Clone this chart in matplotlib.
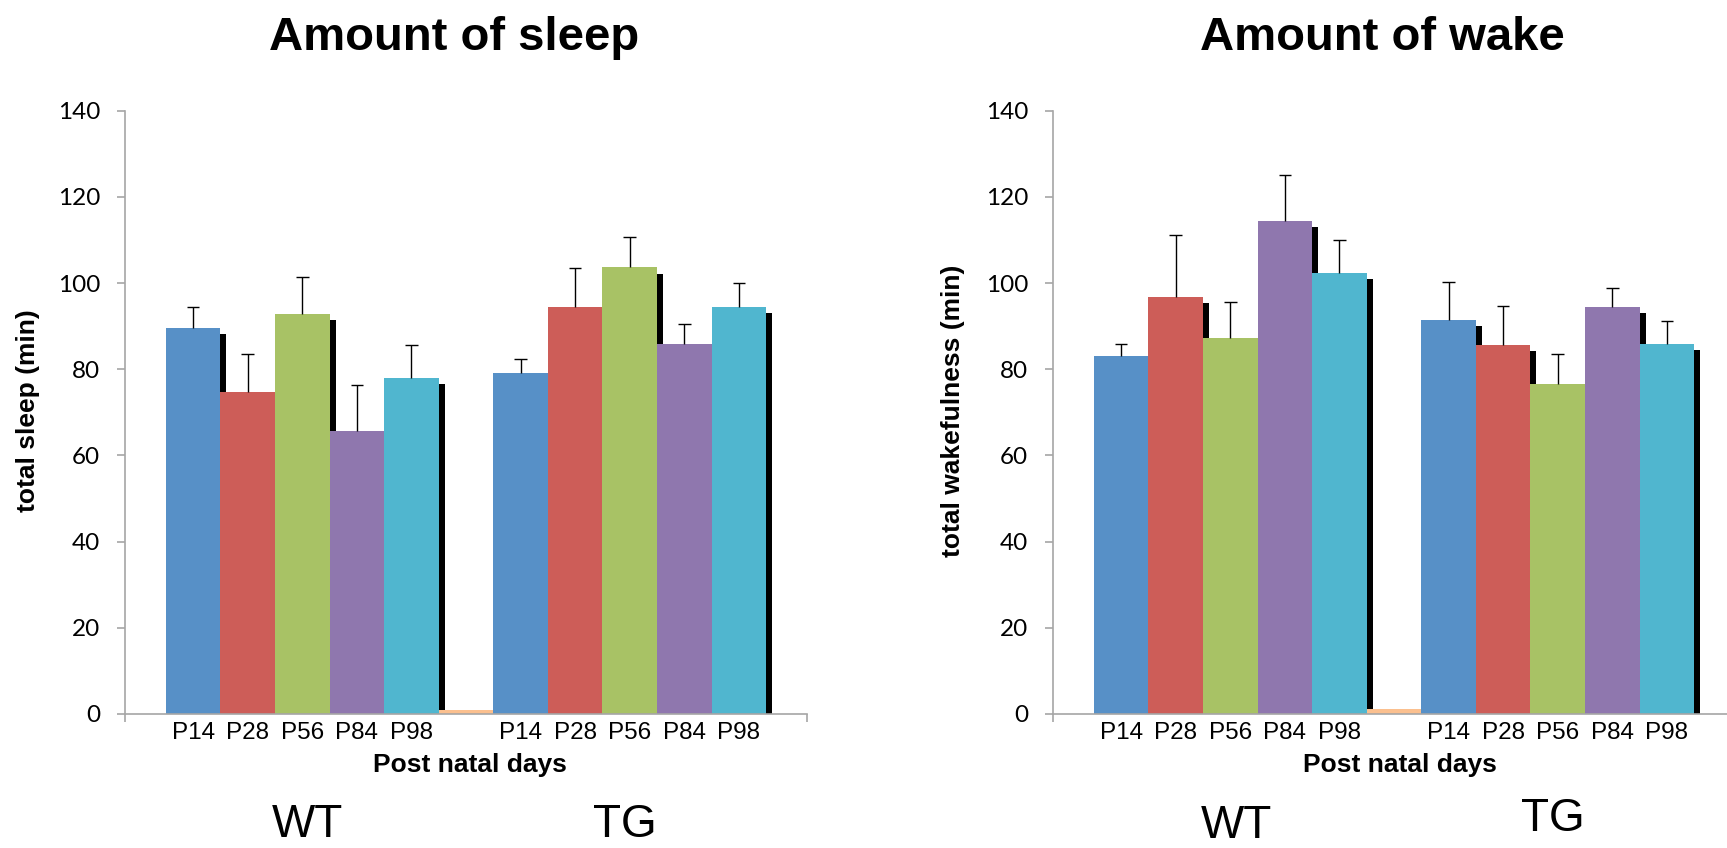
import numpy as np
import matplotlib
matplotlib.use("Agg")
import matplotlib.pyplot as plt

# ---------------- data ----------------
ages = ["P14", "P28", "P56", "P84", "P98"]
groups = ["WT", "TG"]
bar_colors = ["#5790C7", "#CD5D58", "#A8C265", "#8F77AE", "#50B6CF"]
spacer_color = "#FBC08F"

sleep_wt = [89.6, 74.7, 92.9, 65.7, 77.9]
sleep_wt_err = [4.8, 8.9, 8.4, 10.6, 7.6]
sleep_tg = [79.2, 94.5, 103.6, 85.9, 94.5]
sleep_tg_err = [3.2, 9.0, 7.1, 4.5, 5.4]
sleep_spacer = 1.0

wake_wt = [83.1, 96.7, 87.2, 114.3, 102.3]
wake_wt_err = [2.8, 14.5, 8.4, 10.7, 7.6]
wake_tg = [91.4, 85.6, 76.5, 94.5, 85.9]
wake_tg_err = [8.8, 9.1, 7.1, 4.4, 5.3]
wake_spacer = 1.1

titles = ["Amount of sleep", "Amount of wake"]
ylabels = ["total sleep (min)", "total wakefulness (min)"]
xlabel = "Post natal days"
yticks = [0, 20, 40, 60, 80, 100, 120, 140]

# ---------------- figure ----------------
W, H = 1727, 848
fig = plt.figure(figsize=(W / 100, H / 100), dpi=100)

AX_GRAY = "#A6A6A6"
SANS = ["Liberation Sans", "DejaVu Sans"]
TICKFONT = ["Lato", "DejaVu Sans"]


def draw_panel(ax, wt, wt_err, tg, tg_err, spacer):
    vals = np.array(list(wt) + [spacer] + list(tg), dtype=float)
    cols = bar_colors + [spacer_color] + bar_colors
    pos = np.arange(len(vals))
    # drop shadow effect
    dx, dy = 0.11, 1.4
    ax.bar(pos + dx, vals - dy, width=1.0, color="black", linewidth=0, zorder=1)
    ax.bar(pos, vals, width=1.0, color=cols, linewidth=0, zorder=2)
    n = len(wt)
    cap = 0.115
    for idx, v, e in ((pos[:n], wt, wt_err), (pos[n + 1:], tg, tg_err)):
        v = np.asarray(v)
        top = v + np.asarray(e)
        ax.vlines(idx, v, top, colors="black", linewidth=1.0, zorder=3)
        ax.hlines(top, idx - cap, idx + cap, colors="black", linewidth=1.0,
                  zorder=3)
    ax.set_xlim(-1.25, len(vals) - 1 + 1.25)
    ax.set_ylim(0, 140)
    ax.set_yticks(yticks)
    ax.set_yticklabels([str(t) for t in yticks], fontfamily=TICKFONT,
                       fontsize=17.5)
    ax.set_xticks(pos)
    ax.set_xticklabels(ages + [""] + ages, fontfamily=SANS, fontsize=17.5)
    ax.set_xticks([-1.25, len(vals) - 1 + 1.25], minor=True)
    ax.tick_params(axis="x", which="major", length=0, pad=6)
    ax.tick_params(axis="x", which="minor", length=6, width=1.2,
                   color=AX_GRAY, direction="out")
    ax.tick_params(axis="y", length=6, width=1.2, color=AX_GRAY,
                   direction="out", pad=12)
    for s in ("top", "right"):
        ax.spines[s].set_visible(False)
    for s in ("left", "bottom"):
        ax.spines[s].set_color(AX_GRAY)
        ax.spines[s].set_linewidth(1.2)


ax1 = fig.add_axes([125 / W, 1 - 714 / H, 682 / W, 603.4 / H])
ax2 = fig.add_axes([1053 / W, 1 - 714 / H, 682 / W, 603.4 / H])
draw_panel(ax1, sleep_wt, sleep_wt_err, sleep_tg, sleep_tg_err, sleep_spacer)
draw_panel(ax2, wake_wt, wake_wt_err, wake_tg, wake_tg_err, wake_spacer)

# titles
fig.text(454 / W, 1 - 50 / H, titles[0], ha="center", va="baseline",
         fontsize=34, fontweight="bold", family=SANS)
fig.text(1382 / W, 1 - 50 / H, titles[1], ha="center", va="baseline",
         fontsize=34, fontweight="bold", family=SANS)

# y labels
fig.text(28 / W, 1 - 411 / H, ylabels[0], rotation=90, ha="center",
         va="center", fontsize=19, fontweight="bold", family=SANS)
fig.text(953 / W, 1 - 411 / H, ylabels[1], rotation=90, ha="center",
         va="center", fontsize=19, fontweight="bold", family=SANS)

# x labels
fig.text(470 / W, 1 - 772 / H, xlabel, ha="center", va="baseline",
         fontsize=19, fontweight="bold", family=SANS)
fig.text(1400 / W, 1 - 772 / H, xlabel, ha="center", va="baseline",
         fontsize=19, fontweight="bold", family=SANS)

# group labels
fig.text(307 / W, 1 - 837 / H, groups[0], ha="center", va="baseline",
         fontsize=33, family=SANS)
fig.text(625 / W, 1 - 837 / H, groups[1], ha="center", va="baseline",
         fontsize=33, family=SANS)
fig.text(1236 / W, 1 - 838 / H, groups[0], ha="center", va="baseline",
         fontsize=33, family=SANS)
fig.text(1553 / W, 1 - 831 / H, groups[1], ha="center", va="baseline",
         fontsize=33, family=SANS)

fig.savefig("out.png", dpi=100, facecolor="white")
